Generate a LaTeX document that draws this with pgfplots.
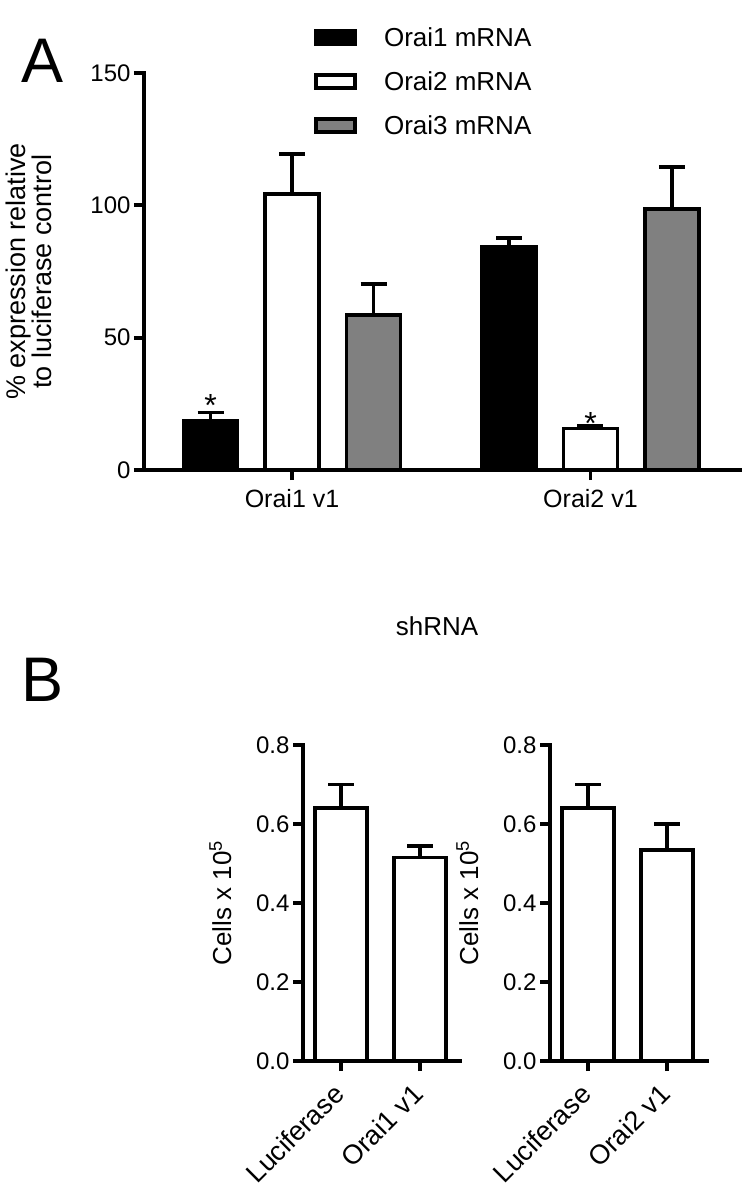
\documentclass[border=0pt]{standalone}
\usepackage{fontspec}
\setmainfont{Liberation Sans}
\usepackage{pgfplots}
\pgfplotsset{compat=1.18}
\definecolor{barGray}{RGB}{128,128,128}
\newcommand{\fs}[1]{\fontsize{#1}{#1}\selectfont}

\pgfplotsset{
  myaxis/.style={
    scale only axis,
    axis x line=bottom, axis y line=left,
    axis line style={-, line width=4pt, line cap=rect, black},
    tick align=outside,
    major tick length=10pt,
    tick style={black, line width=3.8pt},
    minor tick num=0,
    clip=false,
    /pgf/number format/assume math mode=true,
    ticklabel style={font=\fs{24}},
    ymin=0,
  },
  mybar/.style={
    ybar, bar shift=0pt, draw=black, line width=3.8pt,
    error bars/y dir=plus, error bars/y explicit,
    error bars/error mark=|,
    error bars/error bar style={line width=3.8pt, black},
    error bars/error mark options={line width=3.8pt, mark size=13pt, black},
  },
}

\begin{document}
\begin{tikzpicture}
\useasboundingbox (0pt,0pt) rectangle (749pt,-1186pt);

% Panel labels
\node[anchor=base west, inner sep=0pt, font=\fs{63}] at (21pt,-82pt) {A};
\node[anchor=base west, inner sep=0pt, font=\fs{63}] at (21pt,-701pt) {B};
\node[anchor=base, inner sep=0pt, font=\fs{26}] at (437pt,-635pt) {shRNA};

% ---------------- Panel A ----------------
\begin{axis}[myaxis,
  at={(144pt,-470pt)}, anchor=south west,
  width=596pt, height=397pt,
  xmin=-0.496, xmax=1.501, ymax=150,
  ytick={0,50,100,150},
  xtick={0,1}, xticklabels={Orai1 v1, Orai2 v1},
  xticklabel style={font=\fs{25}, yshift=-6pt},
  ylabel={\% expression relative\\to luciferase control},
  ylabel style={at={(axis description cs:-0.1926,0.5)}, anchor=center, align=center, inner sep=0pt, font=\fontsize{27}{24}\selectfont},
  legend image code/.code={\draw[#1,/tikz/.cd,line width=3.8pt] (0pt,-6.25pt) rectangle (39.5pt,6.25pt);},
  legend style={at={(axis description cs:0.2848,1.1134)}, anchor=north west, draw=none, fill=none,
    inner sep=0pt, outer sep=0pt, font=\fs{26}, row sep=25pt, column sep=27pt,
    nodes={inner sep=0pt, text height=19pt, text depth=0pt}},
  legend cell align=left,
]
\addplot[mybar, fill=black, bar width=0.181]
  coordinates {(-0.273,18.5) +- (0,3.2) (0.727,84.4) +- (0,3.4)};
\addlegendentry{Orai1 mRNA}
\addplot[mybar, fill=white, bar width=0.181]
  coordinates {(0,104.3) +- (0,15.2) (1,15.7) +- (0,0.8)};
\addlegendentry{Orai2 mRNA}
\addplot[mybar, fill=barGray, bar width=0.181]
  coordinates {(0.273,58.6) +- (0,11.8) (1.273,98.6) +- (0,16.0)};
\addlegendentry{Orai3 mRNA}
\node[anchor=base, inner sep=0pt, font=\fs{32}] at (axis cs:-0.273,20.2) {*};
\node[anchor=base, inner sep=0pt, font=\fs{32}] at (axis cs:1,13.4) {*};
\end{axis}

% ---------------- Panel B left ----------------
\begin{axis}[myaxis,
  at={(303pt,-1061pt)}, anchor=south west,
  width=157pt, height=316pt,
  xmin=-0.481, xmax=1.506, ymax=0.8,
  ytick={0,0.2,0.4,0.6,0.8},
  yticklabel style={/pgf/number format/.cd, fixed, fixed zerofill, precision=1},
  xtick={0,1}, xticklabels={Luciferase, Orai1 v1},
  xticklabel style={rotate=45, anchor=north east, font=\fs{27}, xshift=-11pt, yshift=2pt},
  ylabel={Cells x 10\textsuperscript{5}},
  ylabel style={at={(axis description cs:-0.4586,0.5)}, anchor=base, inner sep=0pt, font=\fs{26}},
]
\addplot[mybar, fill=white, bar width=0.665]
  coordinates {(0,0.640) +- (0,0.060) (1,0.515) +- (0,0.030)};
\end{axis}

% ---------------- Panel B right ----------------
\begin{axis}[myaxis,
  at={(550pt,-1061pt)}, anchor=south west,
  width=157pt, height=316pt,
  xmin=-0.481, xmax=1.506, ymax=0.8,
  ytick={0,0.2,0.4,0.6,0.8},
  yticklabel style={/pgf/number format/.cd, fixed, fixed zerofill, precision=1},
  xtick={0,1}, xticklabels={Luciferase, Orai2 v1},
  xticklabel style={rotate=45, anchor=north east, font=\fs{27}, xshift=-11pt, yshift=2pt},
  ylabel={Cells x 10\textsuperscript{5}},
  ylabel style={at={(axis description cs:-0.4586,0.5)}, anchor=base, inner sep=0pt, font=\fs{26}},
]
\addplot[mybar, fill=white, bar width=0.665]
  coordinates {(0,0.640) +- (0,0.060) (1,0.535) +- (0,0.065)};
\end{axis}
\end{tikzpicture}
\end{document}
